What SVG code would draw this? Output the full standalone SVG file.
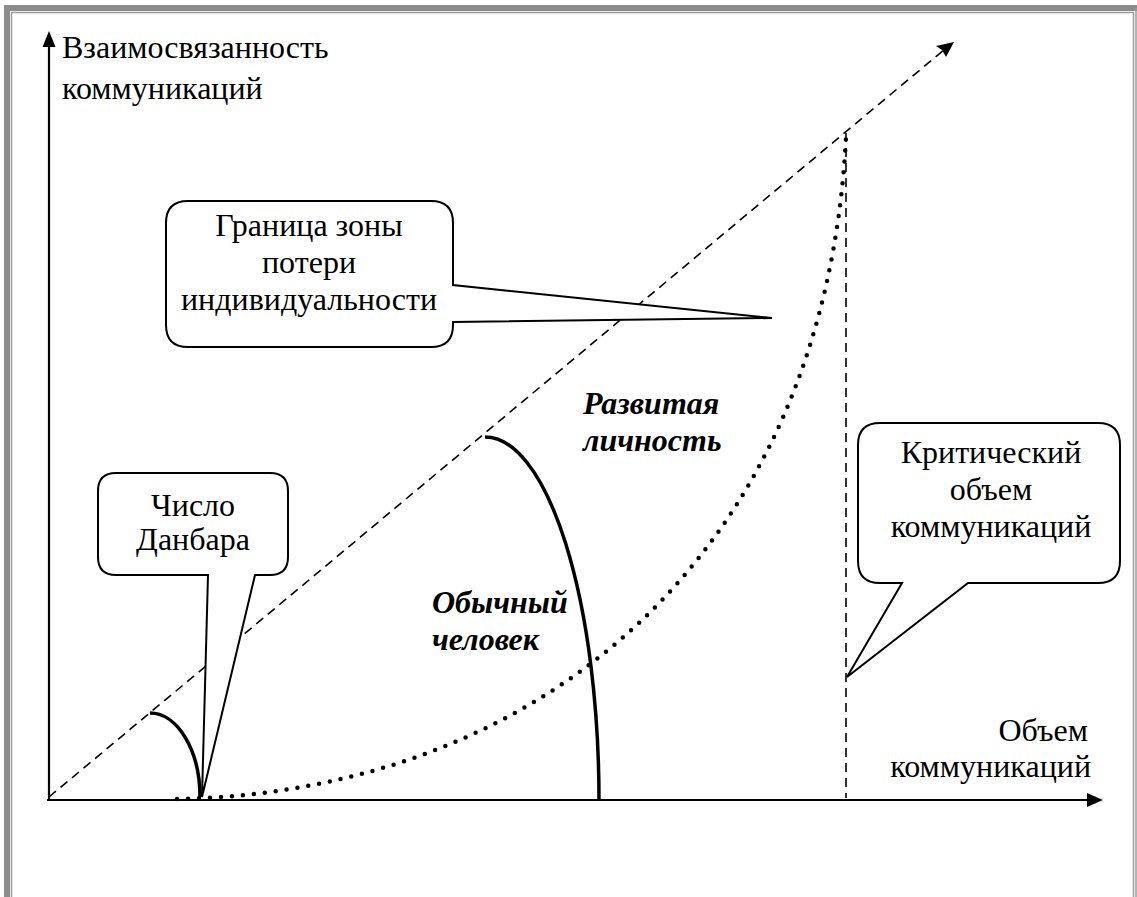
<svg xmlns="http://www.w3.org/2000/svg" width="1137" height="897" viewBox="0 0 1137 897">
<style>
  .t{font-size:32px;fill:#000}
  .c{text-anchor:middle}
  .bi{font-weight:bold;font-style:italic}
  .callout{fill:#fff;stroke:#000;stroke-width:2;stroke-linejoin:miter}
  .dash{fill:none;stroke:#000;stroke-width:1.6;stroke-dasharray:9 6}
  .axis{fill:none;stroke:#000;stroke-width:2.2}
  .arc{fill:none;stroke:#000;stroke-width:3.5}
</style>
<rect x="0" y="0" width="1137" height="897" fill="#fff"/>
<g id="frame" fill="none">
  <path d="M7,897 V8 H1137" stroke="#8c8c8c" stroke-width="6"/>
  <path d="M11.5,897 V12.5 H1133.5 V897" stroke="#9a9a9a" stroke-width="1.5"/>
  <path d="M1136,8 V897" stroke="#9a9a9a" stroke-width="1.5"/>
</g>
<g id="connectors">
  <line class="axis" x1="49" y1="800" x2="49" y2="46"/>
  <polygon points="49,31 42.5,47 55.5,47" fill="#000"/>
  <line class="axis" x1="47" y1="800" x2="1088" y2="800" stroke-width="2.6"/>
  <polygon points="1103,800 1087,793 1087,807" fill="#000"/>
  <line class="dash" x1="49" y1="797" x2="945" y2="49"/>
  <polygon points="954,42 936,46 942,50 946,57" fill="#000"/>
  <line class="dash" x1="846" y1="133" x2="846" y2="798" stroke-dasharray="8 5"/>
  <path d="M177,799 C540,792 825,555 846,137" fill="none" stroke="#000" stroke-width="4.5" stroke-linecap="round" stroke-dasharray="0 11"/>
  <path class="arc" d="M150,713 A50,84 0 0 1 200,797"/>
  <path class="arc" d="M485,437 A114,363 0 0 1 599,800"/>
</g>
<g font-family="Liberation Serif, DejaVu Serif, serif">
<g id="axis-labels">
  <text class="t" x="62" y="58">Взаимосвязанность</text>
  <text class="t" x="62" y="99">коммуникаций</text>
  <text class="t" x="1088" y="741" text-anchor="end">Объем</text>
  <text class="t" x="1091" y="777" text-anchor="end">коммуникаций</text>
</g>
<g id="zone-labels">
  <text class="t bi" x="583" y="414">Развитая</text>
  <text class="t bi" x="583" y="451">личность</text>
  <text class="t bi" x="432" y="613">Обычный</text>
  <text class="t bi" x="432" y="650">человек</text>
</g>
<g id="callout-boundary">
  <path class="callout" d="M188,201 H431 Q453,201 453,223 V285 L772,318 L453,322 V325 Q453,347 431,347 H188 Q166,347 166,325 V223 Q166,201 188,201 Z"/>
  <text class="t c" x="309" y="236">Граница зоны</text>
  <text class="t c" x="309" y="273">потери</text>
  <text class="t c" x="309" y="310">индивидуальности</text>
</g>
<g id="callout-dunbar">
  <path class="callout" d="M116,473 H270 Q288,473 288,491 V557 Q288,575 270,575 H255 L202,797 L208,575 H116 Q98,575 98,557 V491 Q98,473 116,473 Z"/>
  <text class="t c" x="193" y="516">Число</text>
  <text class="t c" x="193" y="550">Данбара</text>
</g>
<g id="callout-critical">
  <path class="callout" d="M880,423 H1098 Q1120,423 1120,445 V561 Q1120,583 1098,583 H968 L847,677 L902,583 H880 Q858,583 858,561 V445 Q858,423 880,423 Z"/>
  <text class="t c" x="991" y="463">Критический</text>
  <text class="t c" x="991" y="500">объем</text>
  <text class="t c" x="991" y="537">коммуникаций</text>
</g>
</g>
</svg>
